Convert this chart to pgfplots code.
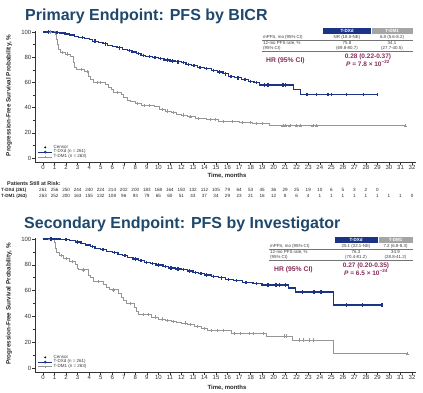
\documentclass[border=0pt]{standalone}
\usepackage{pgfplots}
\pgfplotsset{compat=1.18}
\usepackage{pgfplotstable}
\usepackage{fontspec}
\setmainfont{Liberation Sans}
\definecolor{dxd}{RGB}{28,52,132}
\definecolor{dm1}{RGB}{150,150,150}
\definecolor{ttl}{RGB}{30,72,108}
\definecolor{hrc}{RGB}{135,45,90}
\definecolor{hdrgray}{RGB}{165,165,165}
\definecolor{txt}{RGB}{60,60,60}

% top: PFS by BICR
\pgfplotstableread{
t S c
0 100 0
0.5 100 1
0.9 99.6 0
1.2 99.6 1
1.4 99.2 0
1.9 98.4 0
2.3 97.6 0
2.7 96.5 0
3.1 95.7 0
3.4 95.7 1
3.6 94.8 0
4.0 93.9 0
4.3 92.7 0
4.5 92.7 1
4.8 91.8 0
5.2 90.6 0
5.4 90.6 1
5.6 89.4 0
6.0 88.3 0
6.4 87.4 0
6.6 87.4 1
6.9 86.2 0
7.3 85.2 0
7.5 85.2 1
7.7 84.1 0
8.1 82.8 0
8.3 82.8 1
8.5 81.5 0
8.7 81.5 1
8.9 80.4 0
9.2 80.4 1
9.5 79.6 0
9.7 79.6 1
10.0 78.8 0
10.2 78.8 1
10.5 77.8 0
10.8 77.8 1
11.0 77.0 0
11.2 77.0 1
11.5 76.3 0
11.7 76.3 1
12.0 75.8 0
12.2 75.8 1
12.4 74.4 0
12.6 74.4 1
12.9 73.2 0
13.1 73.2 1
13.4 72.0 0
13.6 72.0 1
14.0 70.9 0
14.2 70.9 1
14.6 69.6 0
14.8 69.6 1
15.1 68.3 0
15.3 68.3 1
15.6 66.8 0
15.8 66.8 1
16.1 64.8 0
16.3 64.8 1
16.6 63.6 0
16.9 63.6 1
17.2 62.5 0
17.5 62.5 1
17.8 60.8 0
18.0 60.8 1
18.3 59.8 0
18.5 59.8 1
18.8 58.0 0
19.2 58.0 1
19.5 58.0 1
20.8 58.0 1
21.0 58.0 1
21.7 54.5 0
22.3 50.5 0
22.9 50.5 1
23.7 50.5 1
24.7 50.5 1
25.0 50.5 1
26.3 50.5 1
27.8 50.5 1
29.0 50.5 1
}\topdxd

\pgfplotstableread{
t S c
0 100 0
0.6 100 1
1.05 98 0
1.15 94 0
1.25 90 0
1.35 86 0
1.5 84 0
1.7 84 1
1.9 82.5 0
2.1 82.5 1
2.4 80.5 0
2.6 76 0
2.75 72 0
2.9 70 0
3.3 70 1
3.6 68.5 0
3.8 68.5 1
3.95 65 0
4.1 62 0
4.4 60 0
4.7 60 1
5.0 60 1
5.4 58.5 0
5.7 56 0
5.9 54 0
6.1 52 0
6.4 52 1
6.8 50.5 0
7.0 48 0
7.3 46 0
7.6 44.5 0
8.0 43 0
8.2 43 1
8.5 41.5 0
8.8 41.5 1
9.2 41.5 1
9.7 40.5 0
10.1 38.5 0
10.3 38.5 1
10.6 37.2 0
10.8 37.2 1
11.1 36 0
11.3 36 1
11.6 34.8 0
12.0 34.1 0
12.2 34.1 1
12.5 32.6 0
12.8 32.6 1
13.2 31.4 0
13.5 31.4 1
14.2 30.5 0
14.5 30.5 1
14.9 30.5 1
15.2 29 0
15.6 29 1
16.4 29 1
17.0 28 0
17.3 28 1
18.0 28 1
18.2 27.2 0
18.5 27.2 1
19.0 27.2 1
19.6 25.5 0
20.8 25.5 1
21.0 25.5 1
21.4 25.5 1
22.0 25.5 1
22.3 25.5 1
23.4 25.5 1
23.7 25.5 1
31.4 25.5 1
}\topdmo

% bottom: PFS by investigator
\pgfplotstableread{
t S c
0 100 0
0.7 100 1
1.5 99.6 0
2.0 99.6 1
2.3 98.8 0
2.8 97.6 0
3.0 97.6 1
3.3 96.5 0
3.7 95.3 0
4.1 94.1 0
4.3 94.1 1
4.5 92.9 0
5.0 91.8 0
5.2 91.8 1
5.5 90.5 0
6.0 89.4 0
6.2 89.4 1
6.5 88.2 0
6.9 87.0 0
7.1 87.0 1
7.3 85.8 0
7.8 84.6 0
8.0 84.6 1
8.3 83.3 0
8.5 83.3 1
8.8 82.0 0
9.0 82.0 1
9.3 80.9 0
9.5 80.9 1
9.8 79.8 0
10.0 79.8 1
10.4 78.6 0
10.6 78.6 1
10.9 77.6 0
11.1 77.6 1
11.5 76.8 0
11.7 76.8 1
12.0 76.3 0
12.2 76.3 1
12.5 75.2 0
12.7 75.2 1
13.0 74.2 0
13.2 74.2 1
13.5 73.1 0
13.7 73.1 1
14.0 72.1 0
14.2 72.1 1
14.6 71.0 0
14.8 71.0 1
15.2 69.9 0
15.5 69.9 1
15.8 68.8 0
16.1 68.8 1
16.5 67.6 0
16.8 67.6 1
17.3 66.4 0
17.6 66.4 1
18.2 65.3 0
18.5 65.3 1
19.0 64.3 0
19.5 64.3 1
20.2 64.3 1
20.5 64.3 1
21.0 64.3 1
21.3 62.0 0
21.9 59.0 0
22.5 59.0 1
23.5 59.0 1
24.1 59.0 1
25.2 48.8 0
26.3 48.8 1
27.7 48.8 1
29.4 48.8 1
}\botdxd

\pgfplotstableread{
t S c
0 100 0
0.6 100 1
1.0 97 0
1.1 93 0
1.2 89.5 0
1.4 87.5 0
1.6 87.5 1
1.8 85 0
2.0 85 1
2.3 82.6 0
2.5 82.6 1
2.8 80 0
3.0 77.5 0
3.1 76 0
3.5 76 1
3.95 72 0
4.1 70.5 0
4.4 67 0
4.8 67 1
5.2 64.5 0
5.5 62.5 0
5.8 60.5 0
6.1 60.5 1
6.5 58 0
6.8 55 0
7.0 52.5 0
7.2 50.3 0
7.6 50.3 1
7.95 47 0
8.1 44 0
8.3 41.3 0
8.7 41.3 1
9.1 41.3 1
9.4 39.5 0
9.7 39.5 1
10.0 38 0
10.3 38 1
10.6 37 0
10.8 37 1
11.1 36 0
11.3 36 1
11.6 35.2 0
12.0 34.9 0
12.3 34.9 1
12.5 33.5 0
12.8 33.5 1
13.1 32 0
13.4 32 1
13.7 30.5 0
14.0 30.5 1
14.3 29.2 0
14.6 29.2 1
15.1 29.2 1
15.6 29.2 1
16.3 27 0
16.6 27 1
17.1 27 1
17.9 27 1
18.2 27 1
19.1 27 1
19.4 24.8 0
20.9 24.8 1
21.1 24.8 1
21.6 21.7 0
22.2 21.7 1
22.6 21.7 1
23.1 21.7 1
23.4 21.7 1
25.2 11 0
31.6 11 1
}\botdmo

\pgfplotsset{
  kmaxis/.style={
    scale only axis, width=380.5pt,
    xmin=-0.7, xmax=32.3, ymin=-3.2, ymax=101,
    axis lines=left, axis line style={-, line width=0.6pt, black!80},
    xtick={0,...,32}, ytick={0,20,...,100}, minor ytick={10,30,50,70,90},
    tick align=outside, tick style={black!80, line width=0.5pt},
    major tick length=2.5pt, minor tick length=1.5pt,
    tick label style={font=\fontsize{6}{7}\selectfont, text=black!80},
    xticklabel style={inner sep=1pt},
    yticklabel style={inner sep=1pt},
    /pgf/number format/assume math mode=true,
    clip=false,
    legend cell align=left,
    legend style={draw=none, fill=none, inner sep=0pt, row sep=-1.2pt,
      font=\fontsize{4.5}{5}\selectfont, text=txt,
      nodes={inner sep=0.6pt}},
    legend image post style={scale=0.85},
  },
  dxdline/.style={dxd, line width=1.3pt, const plot, mark=none},
  dmoline/.style={dm1, line width=0.95pt, const plot, mark=none},
  dxdcens/.style={dxd, only marks, mark=|, mark size=1.7pt, mark options={line width=1.3pt},
    restrict expr to domain={\thisrow{c}}{0.5:1.5}},
  dmocens/.style={dm1, only marks, mark=+, mark size=1.6pt, mark options={line width=0.6pt},
    restrict expr to domain={\thisrow{c}}{0.5:1.5}},
}

\begin{document}
\begin{tikzpicture}[x=1pt,y=1pt]
\path[use as bounding box] (0,0) rectangle (423,-392);

% ---------- top panel ----------
\node[anchor=base west, font=\bfseries\fontsize{16}{18}\selectfont, text=ttl, inner sep=0] at (25,-20.7) {Primary Endpoint: PFS by BICR};

\begin{axis}[kmaxis, at={(35pt,-162pt)}, anchor=south west, height=131.3pt,
  legend style={at={(0.006,0.015)}, anchor=south west}]
\addlegendimage{only marks, mark=*, mark size=0.9pt, black}
\addlegendimage{dxd, line width=1pt, mark=*, mark size=0.9pt}
\addlegendimage{dm1, line width=0.7pt, mark=+, mark size=1.5pt}
\addplot[dmoline, forget plot] table[x=t,y=S] {\topdmo};
\addplot[dmocens, forget plot] table[x=t,y=S] {\topdmo};
\addplot[dxdline, forget plot] table[x=t,y=S] {\topdxd};
\addplot[dxdcens, forget plot] table[x=t,y=S] {\topdxd};
\legend{Censor, T-DXd (n = 261), T-DM1 (n = 263)}
\end{axis}

\node[rotate=90, font=\bfseries\fontsize{6.3}{7}\selectfont, text=black!85] at (9,-95.5) {Progression-Free Survival Probability, \%};
\node[font=\bfseries\fontsize{6}{7}\selectfont, text=black!85] at (227,-176) {Time, months};

% top table
\fill[dxd] (323,-27.5) rectangle (370.5,-33.5);
\fill[hdrgray] (371.5,-27.5) rectangle (412.5,-33.5);
\node[font=\bfseries\fontsize{4.5}{5}\selectfont, text=white] at (347,-30.5) {T-DXd};
\node[font=\bfseries\fontsize{4.5}{5}\selectfont, text=white] at (392,-30.5) {T-DM1};
\begin{scope}[font=\fontsize{4.4}{5}\selectfont, text=txt]
\node[anchor=base west, inner sep=0] at (263,-38) {mPFS, mo (95\% CI)};
\node[anchor=base, inner sep=0] at (347,-38) {NR (18.5-NE)};
\node[anchor=base, inner sep=0] at (392,-38) {6.8 (5.6-8.2)};
\draw[black!55, line width=0.35pt] (262,-39.8) -- (413,-39.8);
\node[anchor=base west, inner sep=0] at (263,-44) {12-mo PFS rate, \%};
\node[anchor=base west, inner sep=0] at (263,-49) {(95\% CI)};
\node[anchor=base, inner sep=0] at (347,-44) {75.8};
\node[anchor=base, inner sep=0] at (347,-49) {(69.8-80.7)};
\node[anchor=base, inner sep=0] at (392,-44) {34.1};
\node[anchor=base, inner sep=0] at (392,-49) {(27.7-40.5)};
\draw[black!55, line width=0.35pt] (262,-51) -- (413,-51);
\end{scope}
\node[anchor=base west, inner sep=0, font=\bfseries\fontsize{6.8}{8}\selectfont, text=hrc] at (266,-62) {HR (95\% CI)};
\node[anchor=base, inner sep=0, font=\bfseries\fontsize{6.5}{8}\selectfont, text=hrc] at (368,-58) {0.28 (0.22-0.37)};
\node[anchor=base, inner sep=0, font=\bfseries\fontsize{6.5}{8}\selectfont, text=hrc] at (368,-66) {\textit{P} = 7.8 × 10\textsuperscript{−22}};

% at risk
\node[anchor=base west, inner sep=0, font=\bfseries\fontsize{5.4}{6}\selectfont, text=black!85] at (7,-185) {Patients Still at Risk:};
\node[anchor=base west, inner sep=0, font=\bfseries\fontsize{4.6}{5}\selectfont, text=black!85] at (1,-191) {T-DXd (261)};
\node[anchor=base west, inner sep=0, font=\bfseries\fontsize{4.6}{5}\selectfont, text=black!85] at (1,-197.5) {T-DM1 (263)};
\foreach \n [count=\i from 0] in {261,256,250,244,240,224,214,202,200,183,168,164,150,132,112,105,79,64,53,45,36,29,25,19,10,6,5,3,2,0}
  \node[anchor=base, inner sep=0, font=\fontsize{4.6}{5}\selectfont, text=black!85] at ({43.07+11.53*\i},-191) {\n};
\foreach \n [count=\i from 0] in {263,252,200,163,155,132,108,96,93,79,65,60,51,43,37,34,29,23,21,16,12,8,6,4,1,1,1,1,1,1,1,1,0}
  \node[anchor=base, inner sep=0, font=\fontsize{4.6}{5}\selectfont, text=black!85] at ({43.07+11.53*\i},-197.5) {\n};

% ---------- bottom panel ----------
\node[anchor=base west, font=\bfseries\fontsize{16}{18}\selectfont, text=ttl, inner sep=0] at (24,-228.3) {Secondary Endpoint: PFS by Investigator};

\begin{axis}[kmaxis, at={(35pt,-372pt)}, anchor=south west, height=134.3pt, ymin=-3.1,
  legend style={at={(0.006,0.015)}, anchor=south west}]
\addlegendimage{only marks, mark=*, mark size=0.9pt, black}
\addlegendimage{dxd, line width=1pt, mark=*, mark size=0.9pt}
\addlegendimage{dm1, line width=0.7pt, mark=+, mark size=1.5pt}
\addplot[dmoline, forget plot] table[x=t,y=S] {\botdmo};
\addplot[dmocens, forget plot] table[x=t,y=S] {\botdmo};
\addplot[dxdline, forget plot] table[x=t,y=S] {\botdxd};
\addplot[dxdcens, forget plot] table[x=t,y=S] {\botdxd};
\legend{Censor, T-DXd (n = 261), T-DM1 (n = 263)}
\end{axis}

\node[rotate=90, font=\bfseries\fontsize{6.3}{7}\selectfont, text=black!85] at (9,-304) {Progression-Free Survival Probability, \%};
\node[font=\bfseries\fontsize{6}{7}\selectfont, text=black!85] at (227,-387.5) {Time, months};

% bottom table
\fill[dxd] (335,-236.5) rectangle (377.5,-242.5);
\fill[hdrgray] (378.5,-236.5) rectangle (413,-242.5);
\node[font=\bfseries\fontsize{4.5}{5}\selectfont, text=white] at (356,-239.5) {T-DXd};
\node[font=\bfseries\fontsize{4.5}{5}\selectfont, text=white] at (395.5,-239.5) {T-DM1};
\begin{scope}[font=\fontsize{4.4}{5}\selectfont, text=txt]
\node[anchor=base west, inner sep=0] at (270,-247) {mPFS, mo (95\% CI)};
\node[anchor=base, inner sep=0] at (356,-247) {25.1 (22.1-NE)};
\node[anchor=base, inner sep=0] at (395.5,-247) {7.2 (6.8-8.3)};
\draw[black!55, line width=0.35pt] (269,-248.8) -- (413,-248.8);
\node[anchor=base west, inner sep=0] at (270,-253) {12-mo PFS rate, \%};
\node[anchor=base west, inner sep=0] at (270,-258) {(95\% CI)};
\node[anchor=base, inner sep=0] at (356,-253) {76.3};
\node[anchor=base, inner sep=0] at (356,-258) {(70.4-81.2)};
\node[anchor=base, inner sep=0] at (395.5,-253) {34.9};
\node[anchor=base, inner sep=0] at (395.5,-258) {(28.8-41.2)};
\draw[black!55, line width=0.35pt] (269,-260) -- (413,-260);
\end{scope}
\node[anchor=base west, inner sep=0, font=\bfseries\fontsize{6.8}{8}\selectfont, text=hrc] at (274,-271) {HR (95\% CI)};
\node[anchor=base, inner sep=0, font=\bfseries\fontsize{6.5}{8}\selectfont, text=hrc] at (366,-267) {0.27 (0.20-0.35)};
\node[anchor=base, inner sep=0, font=\bfseries\fontsize{6.5}{8}\selectfont, text=hrc] at (366,-275.5) {\textit{P} = 6.5 × 10\textsuperscript{−24}};
\end{tikzpicture}
\end{document}
